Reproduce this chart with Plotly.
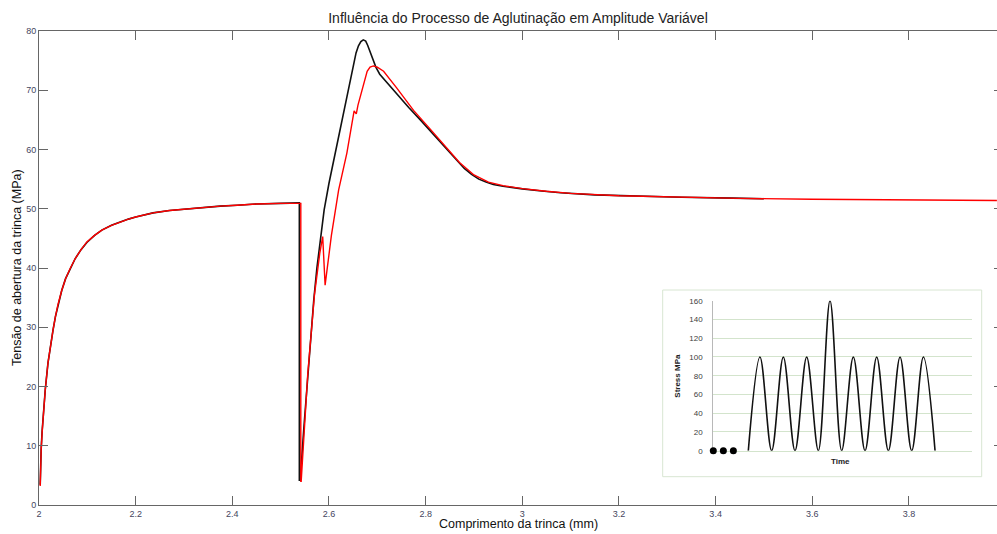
import plotly.graph_objects as go

# ---------------- main chart data ----------------
black_x = [2.0025, 2.003, 2.0045, 2.0065, 2.0095, 2.013, 2.0186, 2.024, 2.029, 2.034, 2.039,
           2.047, 2.055, 2.065, 2.075, 2.087, 2.099, 2.115, 2.13, 2.15, 2.168, 2.185, 2.2,
           2.236, 2.27, 2.3, 2.34, 2.375, 2.41, 2.45, 2.5, 2.5387,
           2.5387, 2.5405, 2.548, 2.556, 2.563, 2.5685, 2.575, 2.582, 2.59, 2.6, 2.613, 2.627,
           2.64, 2.651, 2.656, 2.661, 2.666, 2.671, 2.676, 2.68, 2.685, 2.69, 2.697, 2.705,
           2.72, 2.741, 2.765, 2.789, 2.82, 2.844,
           2.865, 2.88, 2.895, 2.91, 2.925, 2.94, 2.96, 2.98, 3.0, 3.04, 3.079, 3.15, 3.23,
           3.33, 3.435, 3.5]
black_y = [3.4, 6.0, 9.5, 12.5, 16.0, 19.5, 24.0, 27.2, 29.5, 31.8, 33.7,
           36.2, 38.2, 40.0, 41.6, 43.1, 44.3, 45.5, 46.4, 47.2, 47.8, 48.25, 48.6,
           49.3, 49.7, 49.95, 50.2, 50.45, 50.6, 50.8, 50.9, 51.0,
           4.2, 4.2, 13.0, 22.0, 29.5, 34.6, 40.0, 45.0, 49.8, 54.3, 59.5, 64.8,
           70.0, 74.6, 76.3, 77.5, 78.2, 78.5, 78.3, 77.6, 76.4, 75.2, 73.9, 72.7,
           71.3, 69.2, 67.1, 65.0, 62.2, 60.0,
           58.0, 56.8, 55.8, 55.0, 54.5, 54.1, 53.8, 53.55, 53.35, 53.0, 52.7, 52.35, 52.15,
           51.95, 51.8, 51.7]

red_x = [2.0025, 2.003, 2.0045, 2.0065, 2.0095, 2.013, 2.0186, 2.024, 2.029, 2.034, 2.039,
         2.047, 2.055, 2.065, 2.075, 2.087, 2.099, 2.115, 2.13, 2.15, 2.168, 2.185, 2.2,
         2.236, 2.27, 2.3, 2.34, 2.375, 2.41, 2.45, 2.5, 2.5417,
         2.5417, 2.5425, 2.556, 2.57, 2.581, 2.587, 2.592, 2.605, 2.62, 2.637, 2.652, 2.6565,
         2.66, 2.668, 2.674, 2.679, 2.685, 2.692, 2.7, 2.713, 2.74, 2.775, 2.81, 2.844,
         2.87, 2.9, 2.93, 2.96, 3.0, 3.05, 3.1, 3.2, 3.3, 3.45, 3.6, 3.8, 3.982]
red_y = [3.2, 6.0, 9.3, 12.3, 16.0, 19.5, 24.0, 27.2, 29.5, 31.8, 33.75,
         36.2, 38.2, 40.0, 41.6, 43.1, 44.4, 45.5, 46.4, 47.2, 47.8, 48.25, 48.6,
         49.3, 49.7, 49.95, 50.2, 50.45, 50.6, 50.8, 50.9, 50.9,
         4.0, 4.0, 22.0, 35.5, 42.5, 45.3, 37.1, 45.5, 53.2, 59.4, 66.5, 66.0,
         67.5, 70.0, 72.0, 73.2, 73.9, 74.1, 73.9, 73.2, 70.4, 66.6, 63.4, 60.3,
         57.8, 55.7, 54.5, 53.9, 53.4, 52.95, 52.6, 52.2, 52.0, 51.75, 51.6, 51.5, 51.4]

x_ticks = [2, 2.2, 2.4, 2.6, 2.8, 3, 3.2, 3.4, 3.6, 3.8]
x_tick_labels = ["2", "2.2", "2.4", "2.6", "2.8", "3", "3.2", "3.4", "3.6", "3.8"]
y_ticks = [0, 10, 20, 30, 40, 50, 60, 70, 80]

# ---------------- inset data ----------------
dot_time = [0.0, 0.43, 0.86]
dot_stress = [0, 0, 0]
wave_time = [1.5, 2.0, 2.5, 3.0, 3.5, 4.0, 4.5, 5.0, 5.5, 6.0, 6.5, 7.0, 7.5, 8.0, 8.5, 9.0, 9.5]
wave_stress = [0, 100, 0, 100, 0, 100, 0, 160, 0, 100, 0, 100, 0, 100, 0, 100, 0]
inset_y_ticks = [0, 20, 40, 60, 80, 100, 120, 140, 160]

W, H = 997, 534
ML, MR, MT, MB = 39, 0, 31, 29
PW, PH = W - ML - MR, H - MT - MB

def px_x(p):
    return (p - ML) / PW

def px_y(p):
    return (H - MB - p) / PH

fig = go.Figure()

fig.add_trace(go.Scatter(x=black_x, y=black_y, mode="lines",
                         line=dict(color="#111111", width=1.6), showlegend=False,
                         xaxis="x", yaxis="y"))
fig.add_trace(go.Scatter(x=red_x, y=red_y, mode="lines",
                         line=dict(color="#ff0000", width=1.4), showlegend=False,
                         xaxis="x", yaxis="y"))
# invisible trace for right-side tick axis
fig.add_trace(go.Scatter(x=[], y=[], xaxis="x", yaxis="y3", showlegend=False))

# inset traces
fig.add_trace(go.Scatter(x=wave_time, y=wave_stress, mode="lines",
                         line=dict(color="#111111", width=1.6, shape="spline", smoothing=1.0),
                         showlegend=False, xaxis="x2", yaxis="y2", cliponaxis=False))
fig.add_trace(go.Scatter(x=dot_time, y=dot_stress, mode="markers",
                         marker=dict(color="#000000", size=7, line=dict(width=0)),
                         showlegend=False, xaxis="x2", yaxis="y2", cliponaxis=False))

tick_font = dict(family="Liberation Sans, Arial, sans-serif", size=9, color="#45455e")
axis_col = "#666666"

fig.update_layout(
    width=W, height=H,
    margin=dict(l=ML, r=MR, t=MT, b=MB),
    paper_bgcolor="white", plot_bgcolor="white",
    font=dict(family="Liberation Sans, Arial, sans-serif", color="#222222"),
    title=dict(text="Influência do Processo de Aglutinação em Amplitude Variável",
               x=0.5, xref="paper", xanchor="center",
               y=1 - 18 / H, yref="container", yanchor="middle",
               font=dict(size=14, color="#222222")),
    xaxis=dict(domain=[0, 1], range=[2, 2 + PW / 483.3], tickvals=x_ticks, ticktext=x_tick_labels,
               ticks="inside", ticklen=9, tickcolor=axis_col, showline=True, linecolor=axis_col,
               linewidth=1, mirror="ticks", showgrid=False, zeroline=False, tickfont=tick_font,
               anchor="y"),
    yaxis=dict(domain=[0, 1], range=[0, 80], tickvals=y_ticks, ticks="inside", ticklen=9,
               tickcolor=axis_col, showline=True, linecolor=axis_col, linewidth=1, mirror=False,
               showgrid=False, zeroline=False, tickfont=tick_font, anchor="x"),
    yaxis3=dict(overlaying="y", side="right", range=[0, 80], tickvals=y_ticks, ticks="inside",
                ticklen=3, tickcolor=axis_col, showline=False, showgrid=False, zeroline=False,
                showticklabels=False, anchor="x"),
    xaxis2=dict(domain=[px_x(713.3), px_x(971.7)], range=[0, 11.07], anchor="y2",
                showgrid=False, zeroline=False, showticklabels=False, ticks="",
                showline=True, linecolor="#d3e4cc", linewidth=1, layer="below traces"),
    yaxis2=dict(domain=[px_y(450.7), px_y(300.7)], range=[0, 160], anchor="x2",
                tickvals=inset_y_ticks, showgrid=True, gridcolor="#d3e4cc", gridwidth=1,
                zeroline=False, showline=True, linecolor="#b8b8b8", linewidth=1, ticks="",
                ticklabelstandoff=8, layer="below traces",
                tickfont=dict(family="Liberation Sans, Arial, sans-serif", size=8, color="#404040")),
    shapes=[dict(type="rect", xref="paper", yref="paper",
                 x0=px_x(662.7), x1=px_x(981.7), y0=px_y(476.7), y1=px_y(290),
                 line=dict(color="#d8e6d2", width=1), fillcolor="rgba(0,0,0,0)", layer="below")],
    annotations=[
        dict(text="Comprimento da trinca (mm)", xref="paper", yref="paper", x=0.5, y=px_y(524),
             xanchor="center", yanchor="middle", showarrow=False,
             font=dict(size=12.5, color="#111111")),
        dict(text="Tensão de abertura da trinca (MPa)", xref="paper", yref="paper",
             x=px_x(17), y=0.5, xanchor="center", yanchor="middle", textangle=-90,
             showarrow=False, font=dict(size=12.5, color="#111111")),
        dict(text="<b>Stress MPa</b>", xref="paper", yref="paper", x=px_x(678), y=px_y(375.7),
             xanchor="center", yanchor="middle", textangle=-90, showarrow=False,
             font=dict(size=8, color="#222222")),
        dict(text="<b>Time</b>", xref="paper", yref="paper", x=px_x(840), y=px_y(461.7),
             xanchor="center", yanchor="middle", showarrow=False,
             font=dict(size=8, color="#222222")),
    ],
)

fig.write_html("out.html")
